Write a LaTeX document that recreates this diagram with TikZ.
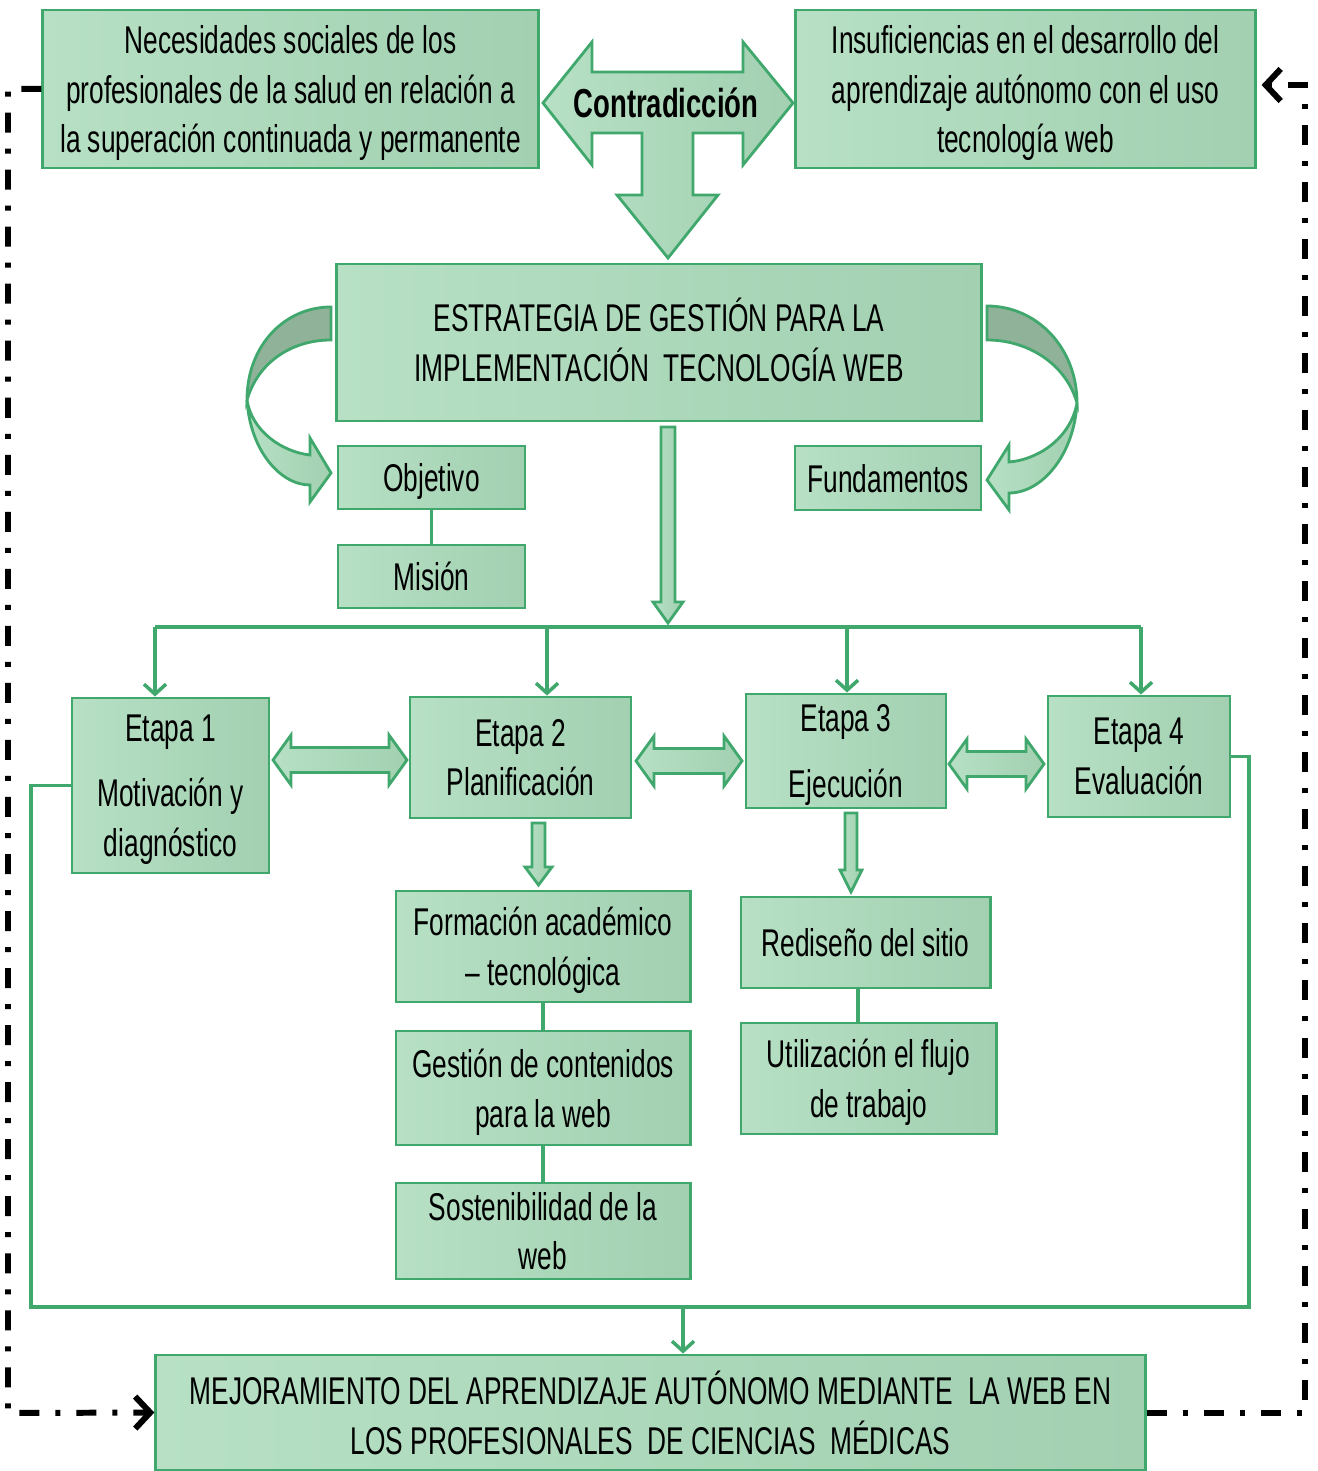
\documentclass[tikz,border=0pt]{standalone}
\usepackage{fontspec}
\setmainfont{Liberation Sans}[FakeStretch=0.68]
\usepackage{tikz}
\usetikzlibrary{arrows.meta,positioning,calc}
\definecolor{boxA}{RGB}{183,224,196}
\definecolor{boxB}{RGB}{162,208,177}
\definecolor{boxline}{RGB}{64,168,108}
\definecolor{bandDark}{RGB}{143,178,153}

\tikzset{
  box/.style={draw=boxline, line width=0.8pt, left color=boxA, right color=boxB,
    align=center, inner sep=0pt, text depth=0pt, font=\fontsize{11}{14.2}\selectfont},
  blockarrow/.style={draw=boxline, line width=0.8pt, left color=boxA, right color=boxB},
  gline/.style={draw=boxline, line width=1pt},
  gtip/.style={-{Straight Barb[length=1mm,width=2.2mm]}},
  feedback/.style={line width=1.7pt, dash pattern=on 2mm off 1.6mm on 0.5mm off 1.6mm},
  fbtip/.style={-{Straight Barb[length=1.5mm,width=3.2mm]}}
}

\begin{document}
\begin{tikzpicture}[x=0.01cm, y=-0.01cm]
    \useasboundingbox (0,0) rectangle (1317,1471);

    % problema
    \node[box, minimum width=4.95cm, minimum height=1.58cm] (nec) at (290.5,89)
        {Necesidades sociales de los\\profesionales de la salud en relación a\\la superación continuada y permanente};
    \node[box, minimum width=4.59cm, minimum height=1.58cm] (ins) at (1025.5,89)
        {Insuficiencias en el desarrollo del\\aprendizaje autónomo con el uso\\tecnología web};

    % contradiccion
    \path[blockarrow] (543,103) -- (592,42) -- (592,72) -- (743,72) -- (743,42) -- (793,103)
        -- (743,165) -- (743,133) -- (693,133) -- (693,195) -- (718,195) -- (668,258)
        -- (617,195) -- (642,195) -- (642,133) -- (592,133) -- (592,165) -- cycle;
    \node[font=\fontsize{11.5}{14}\selectfont\bfseries] (con) at (666,103) {Contradicción};

    % estrategia
    \node[box, minimum width=6.44cm, minimum height=1.57cm] (est) at (659,342.5)
        {\raisebox{0pt}[8pt][0pt]{ESTRATEGIA DE GESTIÓN PARA LA}\\IMPLEMENTACIÓN\ \ TECNOLOGÍA WEB};
    \node[box, minimum width=1.87cm, minimum height=0.63cm] (obj) at (431.5,477.5) {Objetivo};
    \node[box, minimum width=1.87cm, minimum height=0.63cm] (mis) at (431.5,576.5) {Misión};
    \node[box, minimum width=1.86cm, minimum height=0.64cm] (fun) at (888,478) {Fundamentos};
    \draw[gline] (obj.south) -- (mis.north);

    % flechas curvas
    \path[draw=boxline, line width=0.8pt, fill=bandDark] (331,307) .. controls (285,307) and (247,345) .. (247,400)
        .. controls (258,362) and (292,340) .. (331,340) -- cycle;
    \path[blockarrow] (247,400) .. controls (250,450) and (280,485) .. (310,485) -- (310,502) -- (331,473)
        -- (310,438) -- (310,455) .. controls (283,452) and (252,432) .. (247,400) -- cycle;
    \path[draw=boxline, line width=0.8pt, fill=bandDark] (987,306) .. controls (1037,306) and (1077,348) .. (1077,403)
        .. controls (1066,364) and (1028,340) .. (987,340) -- cycle;
    \path[blockarrow] (1077,403) .. controls (1074,455) and (1042,493) .. (1009,493) -- (1009,510) -- (987,480)
        -- (1009,445) -- (1009,462) .. controls (1036,460) and (1070,440) .. (1077,403) -- cycle;

    % flechas de bloque verticales
    \foreach \xc/\ya/\yb/\yt/\sw/\hw in {668/427/602/623/7/15, 538.5/823/867/885/6.5/13.5, 851/813/870/892/6/11} {
        \path[blockarrow] ({\xc-\sw},\ya) -- ({\xc+\sw},\ya) -- ({\xc+\sw},\yb) -- ({\xc+\hw},\yb)
            -- (\xc,\yt) -- ({\xc-\hw},\yb) -- ({\xc-\sw},\yb) -- cycle;
    }

    % etapas
    \node[box, minimum width=1.97cm, minimum height=1.75cm] (e1) at (170.5,785.5)
        {Etapa 1\\[0.15cm]Motivación y\\diagnóstico};
    \node[box, minimum width=2.21cm, minimum height=1.21cm] (e2) at (520.5,757.5)
        {Etapa 2\\Planificación};
    \node[box, minimum width=2.00cm, minimum height=1.14cm] (e3) at (846,751)
        {Etapa 3\\[0.17cm]Ejecución};
    \node[box, minimum width=1.82cm, minimum height=1.21cm] (e4) at (1139,756.5)
        {Etapa 4\\Evaluación};

    % distribucion
    \coordinate (busl) at (155,627);
    \coordinate (busr) at (1141,627);
    \draw[gline] (busl) -- (busr);
    \foreach \x/\n in {155/e1, 547/e2, 847/e3, 1141/e4} {
        \draw[gline, gtip] (\x,627) -- (\x,627 |- \n.north);
    }

    % flechas dobles
    \foreach \xa/\xb/\yc in {273/407/760, 636/742/761, 949/1044/764} {
        \path[blockarrow] (\xa,\yc) -- ({\xa+18},{\yc-25}) -- ({\xa+18},{\yc-12.5}) -- ({\xb-18},{\yc-12.5})
            -- ({\xb-18},{\yc-25}) -- (\xb,\yc) -- ({\xb-18},{\yc+25}) -- ({\xb-18},{\yc+12.5})
            -- ({\xa+18},{\yc+12.5}) -- ({\xa+18},{\yc+25}) -- cycle;
    }

    % acciones
    \node[box, minimum width=2.94cm, minimum height=1.11cm] (for) at (543,946.5)
        {Formación académico\\– tecnológica};
    \node[box, minimum width=2.94cm, minimum height=1.14cm] (ges) at (543,1088)
        {Gestión de contenidos\\para la web};
    \node[box, minimum width=2.94cm, minimum height=0.96cm] (sos) at (543,1231)
        {Sostenibilidad de la\\web};
    \node[box, minimum width=2.49cm, minimum height=0.91cm] (red) at (865.5,942.5)
        {Rediseño del sitio};
    \node[box, minimum width=2.55cm, minimum height=1.11cm] (uti) at (868.5,1078.5)
        {Utilización el flujo\\de trabajo};
    \draw[gline] (for.south) -- (ges.north);
    \draw[gline] (ges.south) -- (sos.north);
    \coordinate (lk) at (858,1000);
    \draw[gline] (red.south -| lk) -- (uti.north -| lk);

    % resultado
    \node[box, minimum width=9.89cm, minimum height=1.15cm] (mej) at (650.5,1412.5)
        {MEJORAMIENTO DEL APRENDIZAJE AUTÓNOMO MEDIANTE\ \ LA WEB EN\\LOS PROFESIONALES\ \ DE CIENCIAS\ \ MÉDICAS};

    % retroalimentacion
    \coordinate (fbl) at (31,1307);
    \coordinate (fbr) at (1249,1307);
    \coordinate (fbm) at (683,1307);
    \draw[gline] (e1.west) -| (fbl) -- (fbr) |- (e4.east);
    \draw[gline, gtip] (fbm) -- (fbm |- mej.north);

    % lineas de trazo y punto
    \coordinate (dl) at (8,1413);
    \coordinate (dr) at (1305,85);
    \draw[feedback, fbtip] (nec.west) -| (dl) -- (mej.west);
    \draw[feedback, fbtip, shorten >=0.05cm] (mej.east) -| (dr) -- (dr -| ins.east);
\end{tikzpicture}
\end{document}
